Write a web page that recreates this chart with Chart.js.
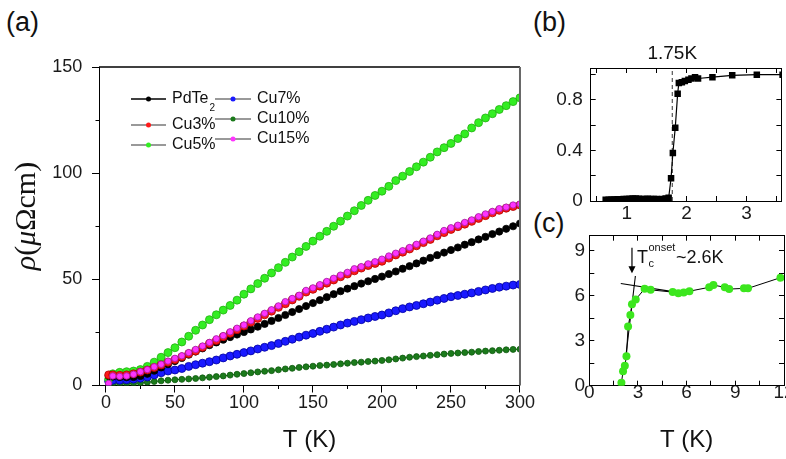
<!DOCTYPE html>
<html>
<head>
<meta charset="utf-8">
<script src="https://cdn.jsdelivr.net/npm/chart.js@4.4.0/dist/chart.umd.min.js"></script>
<style>
  html, body { margin: 0; padding: 0; background: #fff; width: 786px; height: 459px; overflow: hidden; position: relative; }
  canvas { position: absolute; }
  .lab { position: absolute; font-family: 'Liberation Sans', Arial, sans-serif; font-size: 27px; line-height: 1; color: #111; }
</style>
</head>
<body>
<div class="lab" style="left:6px;top:9px">(a)</div>
<div class="lab" style="left:533px;top:9px">(b)</div>
<div class="lab" style="left:533px;top:210px">(c)</div>
<canvas id="chartA" width="535" height="459" style="left:0;top:0"></canvas>
<canvas id="chartB" width="256" height="230" style="left:530px;top:0"></canvas>
<canvas id="chartC" width="280" height="244" style="left:530px;top:215px"></canvas>
<script>
// ---- (a) resistivity vs temperature ----
const temps = [2, 5, 10, 15, 20, 25, 30, 35, 40, 45, 50, 55, 60, 65, 70, 75, 80, 85, 90, 95,
  100, 105, 110, 115, 120, 125, 130, 135, 140, 145, 150, 155, 160, 165, 170, 175, 180, 185, 190, 195,
  200, 205, 210, 215, 220, 225, 230, 235, 240, 245, 250, 255, 260, 265, 270, 275, 280, 285, 290, 295, 300];
const pdte2 = [4.5, 4.2, 4.0, 3.9, 4.0, 4.5, 5.5, 7.0, 8.5, 10.0, 11.5, 13.0, 14.5, 16.0, 17.5, 19.0, 20.3, 21.6, 22.8, 24.0,
  25.2, 26.4, 27.7, 29.0, 30.4, 31.8, 33.2, 34.6, 36.0, 37.4, 38.8, 40.2, 41.6, 43.0, 44.4, 45.6, 46.8, 48.0, 49.1, 50.2,
  51.3, 52.5, 53.7, 55.0, 56.2, 57.5, 58.8, 60.1, 61.4, 62.6, 63.8, 65.0, 66.3, 67.5, 68.8, 70.0, 71.3, 72.5, 73.8, 75.0, 76.3];
const cu3 = [5.0, 5.0, 4.8, 5.0, 5.5, 6.3, 7.3, 8.5, 9.7, 11.0, 12.2, 13.5, 15.0, 16.3, 18.0, 19.8, 21.2, 23.0, 24.6, 26.3,
  28.0, 29.8, 31.6, 33.3, 35.0, 36.8, 38.5, 40.3, 42.0, 44.0, 45.3, 46.8, 48.2, 49.7, 51.2, 52.5, 54.0, 55.3, 56.5, 57.5,
  58.5, 60.0, 61.5, 62.8, 64.3, 65.8, 67.3, 68.8, 70.5, 72.0, 73.5, 74.8, 76.0, 77.3, 78.7, 80.0, 81.3, 82.5, 83.5, 84.3, 85.0];
const cu5 = [3.0, 5.5, 6.2, 6.5, 6.8, 7.5, 9.0, 11.0, 13.3, 15.5, 17.8, 20.5, 23.2, 26.0, 28.5, 31.0, 33.3, 35.5, 37.7, 40.2,
  43.0, 45.5, 48.0, 50.5, 53.0, 55.5, 58.0, 60.5, 63.0, 65.5, 68.0, 70.3, 72.6, 75.0, 77.4, 79.8, 82.3, 84.8, 87.2, 89.5,
  91.5, 93.8, 96.5, 98.6, 100.8, 103.0, 105.2, 107.5, 110.0, 112.0, 114.0, 116.3, 118.5, 121.3, 123.8, 126.0, 128.0, 130.0, 131.8, 133.7, 135.5];
const cu7 = [2.0, 2.5, 2.5, 2.7, 3.0, 3.4, 4.0, 5.0, 6.0, 6.8, 7.3, 8.0, 9.0, 9.8, 10.5, 11.2, 12.0, 13.0, 13.9, 14.7,
  15.5, 16.3, 17.2, 18.0, 18.8, 19.8, 20.8, 21.8, 22.8, 23.7, 24.5, 25.5, 26.5, 27.5, 28.5, 29.4, 30.2, 31.0, 31.8, 32.5,
  33.2, 34.2, 35.2, 36.2, 37.0, 37.7, 38.5, 39.3, 40.2, 41.0, 41.8, 42.4, 43.0, 43.6, 44.3, 45.0, 45.7, 46.3, 46.8, 47.3, 47.6];
const cu10 = [0.8, 0.8, 0.8, 0.9, 1.0, 1.2, 1.5, 1.9, 2.2, 2.5, 2.7, 2.9, 3.1, 3.3, 3.6, 3.9, 4.2, 4.5, 4.9, 5.3,
  5.6, 6.0, 6.4, 6.7, 7.0, 7.4, 7.8, 8.1, 8.5, 8.8, 9.1, 9.4, 9.6, 9.9, 10.2, 10.5, 10.8, 11.0, 11.3, 11.5,
  11.8, 12.1, 12.5, 12.9, 13.3, 13.6, 13.9, 14.2, 14.5, 14.8, 15.1, 15.3, 15.5, 15.7, 16.0, 16.2, 16.4, 16.6, 16.8, 17.0, 17.1];
const cu15 = [1.0, 4.5, 4.3, 4.5, 5.3, 6.5, 7.5, 8.8, 10.0, 11.5, 12.8, 14.0, 15.5, 17.0, 18.6, 20.3, 22.0, 23.5, 25.3, 27.0,
  28.5, 30.5, 32.3, 34.0, 35.7, 37.5, 39.5, 41.0, 42.5, 44.8, 46.0, 47.5, 49.0, 50.5, 52.0, 53.3, 55.0, 56.0, 57.3, 58.3,
  59.5, 61.0, 62.3, 63.5, 65.0, 66.5, 68.0, 69.5, 71.2, 73.0, 74.3, 75.5, 76.8, 78.0, 79.5, 80.8, 82.0, 83.3, 84.0, 85.0, 85.5];
const aTicksX = [0, 50, 100, 150, 200, 250, 300];
const aMinorX = [25, 75, 125, 175, 225, 275];
const aTicksY = [0, 50, 100, 150];
const aMinorY = [25, 75, 125];

// ---- (b) normalised transition ----
const bTemp = [0.65, 0.7, 0.75, 0.8, 0.85, 0.9, 0.95, 1.0, 1.05, 1.1, 1.15, 1.2, 1.25, 1.3, 1.35, 1.4, 1.45, 1.5, 1.55, 1.6, 1.65, 1.7,
  1.74, 1.77, 1.81, 1.85, 1.87, 1.92, 1.97, 2.03, 2.08, 2.14, 2.19, 2.43, 2.76, 3.17, 3.6];
const bRho = [0.01, 0.01, 0.012, 0.012, 0.013, 0.014, 0.015, 0.016, 0.018, 0.02, 0.02, 0.018, 0.016, 0.016, 0.017, 0.016, 0.015, 0.015, 0.014, 0.015, 0.02, 0.025,
  0.18, 0.38, 0.58, 0.85, 0.935, 0.94, 0.95, 0.96, 0.97, 0.98, 0.97, 0.98, 0.995, 1.0, 1.0];
const bTc = 1.76;
const bTcLabel = '1.75K';
const bTicksX = [0.5, 1, 1.5, 2, 2.5, 3, 3.5];
const bTicksY = [0, 0.2, 0.4, 0.6, 0.8, 1.0];

// ---- (c) onset ----
const cTemp = [1.98, 2.08, 2.19, 2.29, 2.39, 2.53, 2.63, 2.86, 3.41, 3.78, 5.14, 5.49, 5.82, 6.17, 7.39, 7.65, 8.35, 8.62, 9.53, 9.78, 11.78];
const cRho = [0.19, 0.96, 1.33, 1.97, 3.94, 4.71, 5.43, 5.75, 6.46, 6.39, 6.24, 6.17, 6.21, 6.30, 6.56, 6.71, 6.56, 6.44, 6.49, 6.49, 7.20];
const cFlatT = [1.94, 5.14], cFlatR = [6.81, 6.27];
const cSteepT = [2.23, 2.84], cSteepR = [1.76, 7.31];
const cOnset = 2.63, cArrowFrom = 9.2, cArrowTo = 7.5;
const cTicksX = [0, 1.5, 3, 4.5, 6, 7.5, 9, 10.5, 12];
const cTicksY = [0, 1.5, 3, 4.5, 6, 7.5, 9];

const sans = 'Liberation Sans';
const tickFont = { family: sans, size: 18 };
const tickFontSmall = { family: sans, size: 19 };

function pts(xs, ys) { return xs.map((x, i) => ({ x: x, y: ys[i] })); }
function isMult(v, step) { return Math.abs(v / step - Math.round(v / step)) < 1e-6; }

function makeAxis(pos, min, max, vals, labelFn, tickLen, size, pad, font, extra) {
  const horiz = pos === 'top' || pos === 'bottom';
  return Object.assign({
    type: 'linear', position: pos, min: min, max: max,
    afterBuildTicks: s => { s.ticks = vals.map(v => ({ value: v })); },
    afterFit: s => { if (horiz) s.height = size; else s.width = size; },
    ticks: { display: !!labelFn, callback: labelFn || (() => ''), font: font || tickFont, color: '#1a1a1a', padding: pad, autoSkip: false, maxRotation: 0 },
    grid: { drawOnChartArea: false, drawTicks: true, tickLength: tickLen, color: '#000', tickWidth: 1 },
    border: { display: true, color: '#000', width: 1 }
  }, extra || {});
}

const series = [
  { label: 'PdTe2', data: pdte2, bg: '#000000', bd: '#000000', line: '#000000', r: 3.6, order: 2 },
  { label: 'Cu3%', data: cu3, bg: '#ff1a1a', bd: '#b00000', line: '#777777', r: 4, order: 1 },
  { label: 'Cu5%', data: cu5, bg: '#33ee22', bd: '#22b012', line: '#777777', r: 4, order: 3 },
  { label: 'Cu7%', data: cu7, bg: '#1a1aff', bd: '#0000a0', line: '#777777', r: 4, order: 4 },
  { label: 'Cu10%', data: cu10, bg: '#1b7a1b', bd: '#0f5a0f', line: '#777777', r: 3, order: 5 },
  { label: 'Cu15%', data: cu15, bg: '#ff33ff', bd: '#a020a0', line: '#777777', r: 3.2, order: 0 }
];

// legend layout for panel (a): two columns
const legendCols = [
  { lineX: [131, 166], textX: 172, items: [[0, 99], [1, 125], [2, 145]] },
  { lineX: [215, 251], textX: 257, items: [[3, 99], [4, 119], [5, 139]] }
];

const panelA = {
  id: 'panelA',
  afterDraw(chart) {
    const ctx = chart.ctx, a = chart.chartArea;
    ctx.save();
    ctx.strokeStyle = '#000'; ctx.lineWidth = 1.3;
    ctx.beginPath(); ctx.moveTo(a.left, a.top); ctx.lineTo(a.right, a.top); ctx.stroke();
    ctx.strokeStyle = '#666'; ctx.lineWidth = 2;
    ctx.beginPath(); ctx.moveTo(a.right, a.top); ctx.lineTo(a.right, a.bottom); ctx.stroke();

    // legend
    legendCols.forEach(col => {
      col.items.forEach(([idx, y]) => {
        const s = series[idx];
        ctx.strokeStyle = s.line; ctx.lineWidth = 1.3;
        ctx.beginPath(); ctx.moveTo(col.lineX[0], y); ctx.lineTo(col.lineX[1], y); ctx.stroke();
        ctx.fillStyle = s.bg;
        ctx.beginPath(); ctx.arc((col.lineX[0] + col.lineX[1]) / 2, y, 2.5, 0, Math.PI * 2); ctx.fill();
        ctx.fillStyle = '#111'; ctx.textBaseline = 'middle'; ctx.textAlign = 'left';
        ctx.font = '16px "' + sans + '"';
        if (s.label === 'PdTe2') {
          ctx.fillText('PdTe', col.textX, y);
          const w = ctx.measureText('PdTe').width;
          ctx.font = '10px "' + sans + '"';
          ctx.fillText('2', col.textX + w + 1, y + 9);
        } else {
          ctx.fillText(s.label, col.textX, y);
        }
      });
    });

    // y title: rho (mu Omega cm)
    const parts = [
      { t: 'ρ', f: 'italic 30px "Liberation Serif"' },
      { t: '(', f: '30px "Liberation Serif"' },
      { t: 'μ', f: 'italic 30px "Liberation Serif"' },
      { t: 'Ωcm)', f: '30px "Liberation Serif"' }
    ];
    ctx.translate(27, 216); ctx.rotate(-Math.PI / 2);
    let total = 0;
    parts.forEach(p => { ctx.font = p.f; p.w = ctx.measureText(p.t).width; total += p.w; });
    let x = -total / 2;
    ctx.fillStyle = '#111'; ctx.textBaseline = 'middle'; ctx.textAlign = 'left';
    parts.forEach(p => { ctx.font = p.f; ctx.fillText(p.t, x, 0); x += p.w; });
    ctx.restore();
  }
};

new Chart(document.getElementById('chartA'), {
  type: 'scatter',
  data: {
    datasets: series.map(s => ({
      label: s.label, data: pts(temps, s.data), order: s.order,
      showLine: true, borderColor: s.bd, borderWidth: 1, tension: 0,
      pointRadius: s.r, pointBackgroundColor: s.bg, pointBorderColor: s.bd, pointBorderWidth: 0.8
    }))
  },
  options: {
    responsive: false, animation: false,
    layout: { padding: { left: 0, top: 67, right: 14.5, bottom: 0 } },
    plugins: { legend: { display: false }, tooltip: { enabled: false } },
    scales: {
      x: makeAxis('bottom', -5, 300, aTicksX, v => String(v), 7, 73.5, 0, tickFont, {
        title: { display: true, text: 'T (K)', color: '#111', font: { family: sans, size: 24 }, padding: { top: 0, bottom: 4.6 } }
      }),
      xMinor: makeAxis('bottom', -5, 300, aMinorX, null, 3.5, 0, 0, tickFont, { weight: -1, border: { display: false } }),
      y: makeAxis('left', 0, 150, aTicksY, v => String(v), 7, 99, 9.7, tickFont),
      yMinor: makeAxis('left', 0, 150, aMinorY, null, 3.5, 0, 0, tickFont, { weight: -1, border: { display: false } })
    }
  },
  plugins: [panelA]
});

// ---- panel (b) ----
const panelB = {
  id: 'panelB',
  afterDraw(chart) {
    const ctx = chart.ctx;
    const px = chart.scales.x.getPixelForValue(bTc);
    ctx.save();
    ctx.fillStyle = '#111'; ctx.font = '19px "' + sans + '"';
    ctx.textAlign = 'center'; ctx.textBaseline = 'middle';
    ctx.fillText(bTcLabel, px, 54);
    ctx.restore();
  }
};

new Chart(document.getElementById('chartB'), {
  type: 'scatter',
  data: {
    datasets: [
      {
        data: pts(bTemp, bRho), showLine: true, borderColor: '#000', borderWidth: 1.2,
        pointStyle: 'rect', pointRadius: 4.6, pointBackgroundColor: '#000', pointBorderColor: '#000', pointBorderWidth: 0
      },
      {
        data: [{ x: bTc, y: 0 }, { x: bTc, y: 1.053 }], showLine: true, borderColor: '#333',
        borderWidth: 1, borderDash: [4, 3], pointRadius: 0
      }
    ]
  },
  options: {
    responsive: false, animation: false,
    layout: { padding: { left: 0, top: 68, right: 3, bottom: 0 } },
    plugins: { legend: { display: false }, tooltip: { enabled: false } },
    scales: {
      x: makeAxis('bottom', 0.4, 3.58, bTicksX, v => isMult(v, 1) ? String(v) : '', -5, 29, 6, tickFontSmall),
      xt: makeAxis('top', 0.4, 3.58, bTicksX, null, -5, 0, 0),
      y: makeAxis('left', 0, 1.053, bTicksY, v => isMult(v, 0.4) ? String(Math.round(v * 10) / 10) : '', -5, 60.7, 13, tickFontSmall),
      yr: makeAxis('right', 0, 1.053, bTicksY, null, -5, 0, 0)
    }
  },
  plugins: [panelB]
});

// ---- panel (c) ----
const panelC = {
  id: 'panelC',
  afterDraw(chart) {
    const ctx = chart.ctx, sx = chart.scales.x, sy = chart.scales.y;
    const x = sx.getPixelForValue(cOnset);
    const y0 = sy.getPixelForValue(cArrowFrom), y1 = sy.getPixelForValue(cArrowTo);
    ctx.save();
    ctx.strokeStyle = '#000'; ctx.fillStyle = '#000'; ctx.lineWidth = 1.2;
    ctx.beginPath(); ctx.moveTo(x, y0); ctx.lineTo(x, y1 - 5); ctx.stroke();
    ctx.beginPath(); ctx.moveTo(x - 3.5, y1 - 7); ctx.lineTo(x + 3.5, y1 - 7); ctx.lineTo(x, y1); ctx.closePath(); ctx.fill();

    ctx.fillStyle = '#111'; ctx.textAlign = 'left'; ctx.textBaseline = 'alphabetic';
    let tx = x + 5; const base = y0 + 15;
    ctx.font = '18px "' + sans + '"';
    ctx.fillText('T', tx, base);
    tx += ctx.measureText('T').width + 0.5;
    ctx.font = '11px "' + sans + '"';
    ctx.fillText('c', tx, base + 4);
    ctx.fillText('onset', tx, base - 12);
    tx += ctx.measureText('onset').width + 0.5;
    ctx.font = '18px "' + sans + '"';
    ctx.fillText('~2.6K', tx, base);
    ctx.restore();
  }
};

new Chart(document.getElementById('chartC'), {
  type: 'scatter',
  data: {
    datasets: [
      {
        data: pts(cTemp, cRho), showLine: true, borderColor: '#000', borderWidth: 1,
        pointRadius: 4, pointBackgroundColor: '#3ce61e', pointBorderColor: '#3ce61e', pointBorderWidth: 0
      },
      { data: pts(cFlatT, cFlatR), showLine: true, borderColor: '#000', borderWidth: 1.1, pointRadius: 0 },
      { data: pts(cSteepT, cSteepR), showLine: true, borderColor: '#000', borderWidth: 1.1, pointRadius: 0 }
    ]
  },
  options: {
    responsive: false, animation: false,
    layout: { padding: { left: 0, top: 15, right: 26, bottom: 0 } },
    plugins: { legend: { display: false }, tooltip: { enabled: false } },
    scales: {
      x: makeAxis('bottom', 0, 12, cTicksX, v => isMult(v, 3) ? String(v) : '', -5, 73.3, 1, tickFontSmall, {
        title: { display: true, text: 'T (K)', color: '#111', font: { family: sans, size: 24 }, padding: { top: 0, bottom: 4.6 } }
      }),
      xt: makeAxis('top', 0, 12, cTicksX, null, -5, 0, 0),
      y: makeAxis('left', 0, 10, cTicksY, v => isMult(v, 3) ? String(v) : '', -5, 59.3, 9.3, tickFontSmall),
      yr: makeAxis('right', 0, 10, cTicksY, null, -5, 0, 0)
    }
  },
  plugins: [panelC]
});
</script>
</body>
</html>
